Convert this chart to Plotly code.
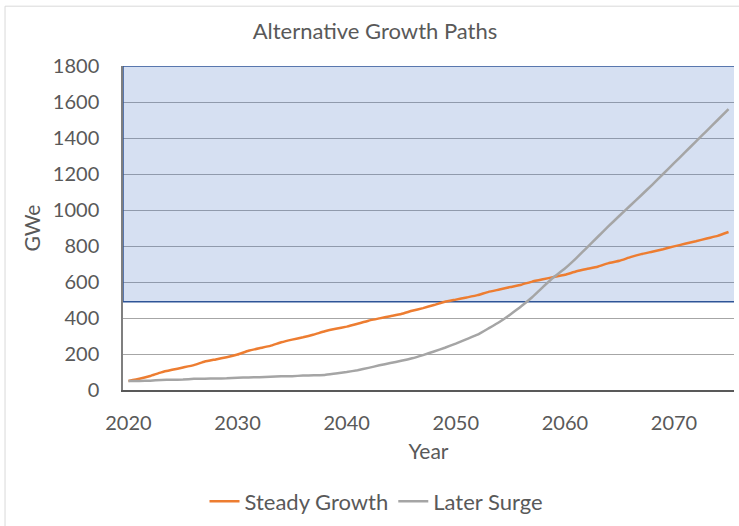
import plotly.graph_objects as go

years = list(range(2020, 2076))
steady_growth = [50, 62, 78, 98, 112, 125, 138, 158, 170, 182,
                 197, 218, 232, 245, 265, 280, 293, 308, 326, 340,
                 352, 368, 385, 398, 410, 422, 440, 455, 472, 490,
                 502, 514, 527, 545, 558, 572, 585, 602, 615, 628,
                 640, 658, 672, 685, 705, 718, 738, 755, 768, 782,
                 798, 812, 826, 842, 856, 878]
later_surge = [50, 50, 52, 56, 57, 58, 62, 63, 64, 65,
               68, 70, 71, 74, 76, 77, 80, 82, 84, 92,
               100, 110, 123, 137, 150, 162, 176, 194, 214, 235,
               258, 283, 307, 342, 378, 420, 465, 515, 573, 628,
               675, 730, 790, 850, 910, 968, 1025, 1082, 1140, 1200,
               1260, 1320, 1380, 1440, 1500, 1560]
x_ticks = [2020, 2030, 2040, 2050, 2060, 2070]
y_ticks = [0, 200, 400, 600, 800, 1000, 1200, 1400, 1600, 1800]
band_low = 490
band_high = 1800

FONT = "Lato"
TXT = "#595959"

fig = go.Figure()
fig.add_trace(go.Scatter(x=years, y=steady_growth, mode="lines", name="Steady Growth",
                         line=dict(color="#ED7D31", width=2.5, shape="spline", smoothing=0.3)))
fig.add_trace(go.Scatter(x=years, y=later_surge, mode="lines", name="Later Surge",
                         line=dict(color="#A5A5A5", width=2.5, shape="spline", smoothing=0.3)))

x0, x1 = 2019.5, 2075.5
fig.add_shape(type="rect", xref="x", yref="y", x0=x0, x1=x1, y0=band_low, y1=band_high,
              fillcolor="rgba(68,114,196,0.22)", line=dict(width=0), layer="between")
fig.add_shape(type="line", xref="x", yref="y", x0=x0, x1=x1, y0=band_low, y1=band_low,
              line=dict(color="#2F5597", width=1.5), layer="between")
fig.add_shape(type="line", xref="x", yref="y", x0=x0, x1=x1, y0=band_high, y1=band_high,
              line=dict(color="#2F5597", width=1.5), layer="above")
fig.add_shape(type="line", xref="x", yref="y", x0=x0, x1=x0, y0=band_low, y1=band_high,
              line=dict(color="#2F5597", width=1.5), layer="above")
# chart border (left and top)
fig.add_shape(type="line", xref="paper", yref="paper", x0=-0.1931, x1=1.01, y0=1.1846, y1=1.1846,
              line=dict(color="#D9D9D9", width=1), layer="above")
fig.add_shape(type="line", xref="paper", yref="paper", x0=-0.1931, x1=-0.1931, y0=1.1846, y1=-0.42,
              line=dict(color="#D9D9D9", width=1), layer="above")

fig.update_layout(
    width=739, height=526,
    margin=dict(l=123, r=5, t=66, b=135),
    paper_bgcolor="white", plot_bgcolor="white",
    font=dict(family=FONT, color=TXT, size=20),
    title=dict(text="Alternative Growth Paths", x=375/739, xanchor="center",
               y=1 - 31/526, yanchor="middle", font=dict(family=FONT, size=22, color=TXT)),
    xaxis=dict(range=[x0, x1], tickvals=x_ticks, showgrid=False, showline=True,
               linecolor="#595959", linewidth=1.5, ticks="", ticklabelstandoff=14,
               tickfont=dict(size=20, color=TXT), zeroline=False,
               title=dict(text="Year", font=dict(size=21, color=TXT), standoff=12)),
    yaxis=dict(range=[0, 1800], tickvals=y_ticks, showgrid=True, gridcolor="#A6A6A6",
               gridwidth=1.3, showline=True, linecolor="#7F7F7F", linewidth=1.5,
               ticks="", ticklabelstandoff=18, zeroline=False,
               tickfont=dict(size=20, color=TXT),
               title=dict(text="GWe", font=dict(size=21, color=TXT), standoff=6)),
    legend=dict(orientation="h", x=(376.5 - 123) / 611, xanchor="center", y=-0.34, yanchor="middle",
                font=dict(size=22, color=TXT), itemwidth=30, bgcolor="rgba(0,0,0,0)"),
    showlegend=True,
)

fig.write_html("out.html")
